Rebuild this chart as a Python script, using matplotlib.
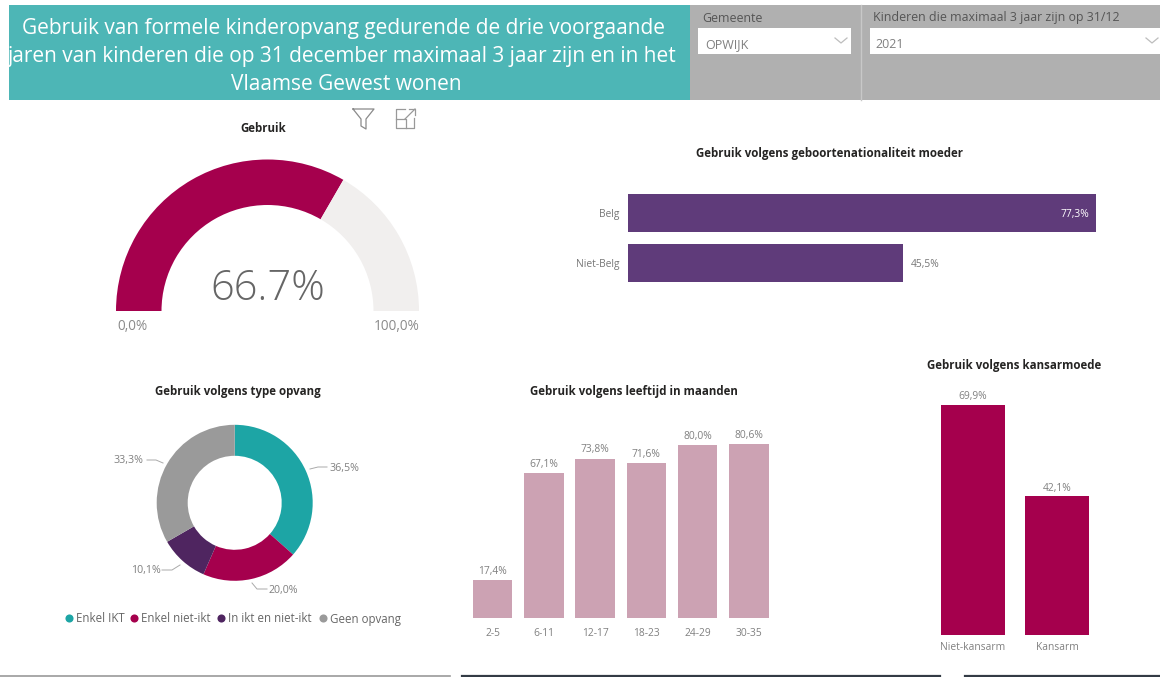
import matplotlib
matplotlib.use("Agg")
import matplotlib.pyplot as plt
from matplotlib.patches import Rectangle

plt.rcParams['font.family'] = ['Open Sans', 'DejaVu Sans']

W, H = 1160, 677

title_lines = [
    "Gebruik van formele kinderopvang gedurende de drie voorgaande",
    "jaren van kinderen die op 31 december maximaal 3 jaar zijn en in het",
    "Vlaamse Gewest wonen",
]

gauge_value = 66.7
gauge_max = 100.0

nat_labels = ["Belg", "Niet-Belg"]
nat_values = [77.3, 45.5]

type_labels = ["Enkel IKT", "Enkel niet-ikt", "In ikt en niet-ikt", "Geen opvang"]
type_values = [36.5, 20.0, 10.1, 33.3]
type_colors = ["#1DA5A5", "#A5004D", "#4F2560", "#9A9A9A"]

age_labels = ["2-5", "6-11", "12-17", "18-23", "24-29", "30-35"]
age_values = [17.4, 67.1, 73.8, 71.6, 80.0, 80.6]

kans_labels = ["Niet-kansarm", "Kansarm"]
kans_values = [69.9, 42.1]

SMALL = 7.4


def pct(v):
    return f"{v:.1f}%".replace(".", ",")


def px_axes(fig, left, top, right, bottom):
    ax = fig.add_axes([left / W, 1 - bottom / H, (right - left) / W, (bottom - top) / H])
    ax.set_facecolor("none")
    return ax


fig = plt.figure(figsize=(W / 100, H / 100), dpi=100, facecolor="white")

# page overlay in pixel coordinates: header, icons, titles
page = fig.add_axes([0, 0, 1, 1])
page.set_xlim(0, W)
page.set_ylim(H, 0)
page.axis("off")

page.add_patch(Rectangle((9, 5), 681, 95, color="#4DB6B6", lw=0))
page.add_patch(Rectangle((690, 5), 470, 95, color="#B0B0B0", lw=0))
page.plot([861, 861], [5, 100], color="#C8C8C8", lw=1)
page.add_patch(Rectangle((698, 28), 153, 26, color="white", lw=0))
page.add_patch(Rectangle((870, 28), 290, 26, color="white", lw=0))

for y, x, line in zip([28.5, 56.5, 85], [344, 342, 346], title_lines):
    page.text(x, y, line, color="white", fontsize=15, ha="center", va="center")

page.text(702, 18, "Gemeente", color="#555555", fontsize=8.9, va="center")
page.text(873, 18, "Kinderen die maximaal 3 jaar zijn op 31/12", color="#555555", fontsize=8.95, va="center")
page.text(705, 44.5, "OPWIJK", color="#808080", fontsize=9, va="center")
page.text(875, 44.5, "2021", color="#808080", fontsize=9, va="center")
page.plot([835, 841, 847], [38, 43, 38], color="#BDBDBD", lw=0.9)
page.plot([1146, 1152, 1158], [38, 43, 38], color="#BDBDBD", lw=0.9)

# filter and expand icons
page.plot([353, 374, 366, 366, 361, 361, 353], [109, 109, 119, 129, 126, 119, 109], color="#8A8A8A", lw=0.9)
page.plot([405, 396, 396, 414, 414], [109, 109, 128, 128, 118], color="#999999", lw=0.9)
page.plot([396, 406, 406], [119, 119, 128], color="#999999", lw=0.9)
page.plot([405, 415], [119, 109], color="#999999", lw=0.9)
page.plot([409, 415, 415], [109, 109, 115], color="#999999", lw=0.9)

# bottom edge lines
page.plot([0, 450], [676, 676], color="#9A9A9A", lw=1.2)
page.plot([462, 940], [675.5, 675.5], color="#333B45", lw=1.6)
page.plot([965, 1160], [675.5, 675.5], color="#333B45", lw=1.6)

title_style = dict(color="#252423", fontsize=8.3, fontweight="bold", ha="center", va="center")
page.text(263, 128, "Gebruik", **title_style)
page.text(829, 153, "Gebruik volgens geboortenationaliteit moeder", **title_style)
page.text(238, 391, "Gebruik volgens type opvang", **title_style)
page.text(634, 391, "Gebruik volgens leeftijd in maanden", **title_style)
page.text(1014, 365, "Gebruik volgens kansarmoede", **title_style)

# gauge, half of a pie with the lower half hidden
cx, cy, r = 267.5, 311, 151.5
gauge = px_axes(fig, cx - r, cy - r, cx + r, cy + r)
wedges, _ = gauge.pie(
    [gauge_value, gauge_max - gauge_value, gauge_max],
    colors=["#A5004D", "#F1EFEE", "white"],
    startangle=180, counterclock=False, radius=1,
    wedgeprops=dict(width=45.5 / r, lw=0),
)
wedges[2].set_visible(False)
gauge.set_xlim(-1, 1)
gauge.set_ylim(-1, 1)
page.text(268, 289, pct(gauge_value).replace(",", "."), color="#666666", fontsize=30, fontweight="light",
          ha="center", va="center", zorder=5)
page.text(132, 327, pct(0), color="#8A8A8A", fontsize=9.8, ha="center", va="center")
page.text(397, 327, pct(gauge_max), color="#8A8A8A", fontsize=9.8, ha="center", va="center")

# nationality bars
nat = px_axes(fig, 628, 188, 1108, 288)
nat.barh(nat_labels, nat_values, height=0.76, color="#5F3B7A")
nat.set_xlim(0, 480 / 6.054)
nat.set_ylim(1.5, -0.5)
nat.axis("off")
for i, (lab, v) in enumerate(zip(nat_labels, nat_values)):
    nat.annotate(lab, (0, i), xytext=(-6, -1), textcoords="offset points", ha="right", va="center",
                 fontsize=SMALL, color="#777777")
nat.annotate(pct(nat_values[0]), (nat_values[0], 0), xytext=(-5, -1), textcoords="offset points",
             color="white", fontsize=SMALL, ha="right", va="center")
nat.annotate(pct(nat_values[1]), (nat_values[1], 1), xytext=(5, -1), textcoords="offset points",
             ha="left", va="center", fontsize=SMALL, color="#777777")

# type of care donut
dcx, dcy, dr = 234.7, 502.8, 78
donut = px_axes(fig, dcx - dr, dcy - dr, dcx + dr, dcy + dr)
donut.pie(type_values, colors=type_colors, startangle=90, counterclock=False, radius=1,
          wedgeprops=dict(width=31 / dr, lw=0))
donut.set_xlim(-1, 1)
donut.set_ylim(-1, 1)

leader_x = [[310, 318, 327], [252, 257, 267], [162, 172, 180], [147, 156, 163]]
leader_y = [[469, 467, 467], [583, 589, 589], [570, 570, 565], [460, 460, 463]]
label_x = [344.5, 283.5, 146, 128.5]
label_y = [468.5, 590.5, 570.5, 460.5]
for v, lx, ly, tx, ty in zip(type_values, leader_x, leader_y, label_x, label_y):
    page.plot(lx, ly, color="#AAAAAA", lw=0.7)
    page.text(tx, ty, pct(v), color="#808080", fontsize=7.7, ha="center", va="center")

legend_x = [69, 134, 221, 323]
for lab, col, x in zip(type_labels, type_colors, legend_x):
    page.scatter([x], [618], s=34, color=col, lw=0)
    page.text(x + 7, 619, lab, color="#666666", fontsize=8.3, ha="left", va="center")

# age bars
age = px_axes(fig, 466, 430, 776, 618)
age.bar(range(len(age_labels)), age_values, width=0.77, color="#CCA2B3")
age.set_xlim(-0.5 - 0.02, 5.5 + 0.03)
age.set_ylim(0, 188 / 2.159)
age.set_xticks(range(len(age_labels)), age_labels)
age.tick_params(axis="x", length=0, labelsize=SMALL, labelcolor="#808080", pad=7.5)
age.set_yticks([])
for s in age.spines.values():
    s.set_visible(False)
for i, v in enumerate(age_values):
    age.annotate(pct(v), (i, v), xytext=(0, 2.5), textcoords="offset points", ha="center", va="bottom",
                 fontsize=SMALL, color="#808080")

# kansarmoede bars
kans = px_axes(fig, 931, 395, 1100, 634.7)
kans.bar(range(len(kans_labels)), kans_values, width=0.768, color="#A5004D")
kans.set_xlim(-0.5, 1.512)
kans.set_ylim(0, 239.7 / 3.286)
kans.set_xticks(range(len(kans_labels)), kans_labels)
kans.tick_params(axis="x", length=0, labelsize=SMALL, labelcolor="#808080", pad=5)
kans.set_yticks([])
for s in kans.spines.values():
    s.set_visible(False)
for i, v in enumerate(kans_values):
    kans.annotate(pct(v), (i, v), xytext=(0, 2), textcoords="offset points", ha="center", va="bottom",
                  fontsize=SMALL, color="#808080")

fig.savefig("out.png", dpi=100)
